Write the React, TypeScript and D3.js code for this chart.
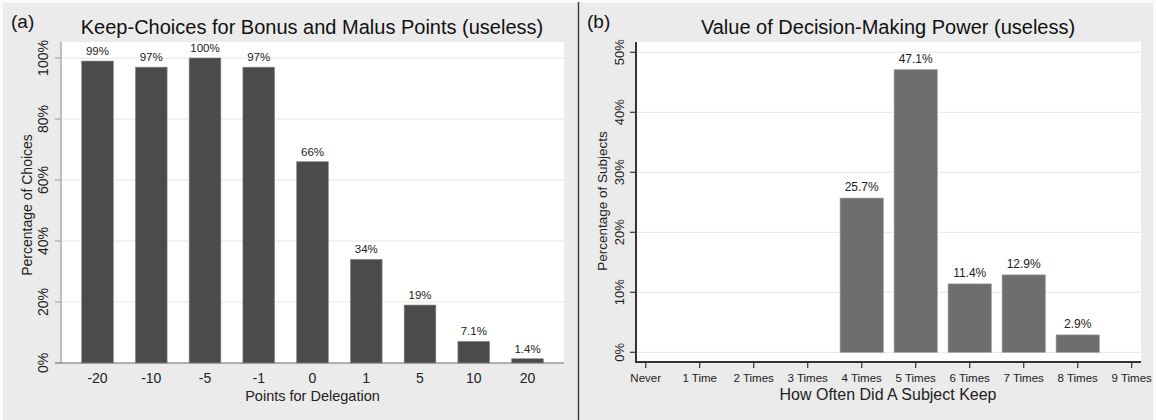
import { useLayoutEffect, useRef } from "react";
import * as d3 from "d3";

const W = 1156;
const H = 420;

// panel (a)
const pointsCats = ["-20", "-10", "-5", "-1", "0", "1", "5", "10", "20"];
const keepShares = [99, 97, 100, 97, 66, 34, 19, 7.1, 1.4];
const keepLabels = ["99%", "97%", "100%", "97%", "66%", "34%", "19%", "7.1%", "1.4%"];
const keepTicks = [0, 20, 40, 60, 80, 100];

// panel (b)
const timesCats = ["Never", "1 Time", "2 Times", "3 Times", "4 Times", "5 Times", "6 Times", "7 Times", "8 Times", "9 Times"];
const subjectShares = [0, 0, 0, 0, 25.7, 47.1, 11.4, 12.9, 2.9, 0];
const subjectLabels = ["", "", "", "", "25.7%", "47.1%", "11.4%", "12.9%", "2.9%", ""];
const subjectTicks = [0, 10, 20, 30, 40, 50];

const FONT = "'Liberation Sans', Arial, sans-serif";

const App = () => {
  const svgRef = useRef<SVGSVGElement>(null);

  useLayoutEffect(() => {
    const svg = d3.select(svgRef.current);
    svg.selectAll("*").remove();
    svg.attr("font-family", FONT);

    // backgrounds
    svg.append("rect").attr("width", W).attr("height", H).attr("fill", "#fafafa");
    svg.append("rect").attr("x", 3).attr("y", 3).attr("width", 574).attr("height", H - 3).attr("fill", "#ebebeb");
    svg.append("rect").attr("x", 580).attr("y", 3).attr("width", 573).attr("height", H - 3).attr("fill", "#ebebeb");
    svg.append("line").attr("x1", 578.5).attr("x2", 578.5).attr("y1", 2).attr("y2", H).attr("stroke", "#3a3a3a").attr("stroke-width", 1.5);

    // ---------- panel (a) ----------
    const a = { left: 61, right: 564, top: 42, bottom: 363 };
    const xa = d3.scaleBand().domain(pointsCats).range([a.left, a.right]).paddingInner(0.41).paddingOuter(0.384);
    const ya = d3.scaleLinear().domain([0, 100]).range([363, 58]);

    const ga = svg.append("g");
    ga.append("rect").attr("x", a.left).attr("y", a.top).attr("width", a.right - a.left).attr("height", a.bottom - a.top).attr("fill", "#fff");
    ga.selectAll(".grid").data(keepTicks.slice(1)).join("line")
      .attr("x1", a.left).attr("x2", a.right)
      .attr("y1", (d) => ya(d)).attr("y2", (d) => ya(d))
      .attr("stroke", "#e6e6e6").attr("stroke-width", 1);

    ga.selectAll(".bar").data(keepShares).join("rect")
      .attr("x", (_, i) => xa(pointsCats[i])!)
      .attr("width", xa.bandwidth())
      .attr("y", (d) => ya(d))
      .attr("height", (d) => ya(0) - ya(d))
      .attr("fill", "#4b4b4b").attr("stroke", "#8a8a8a").attr("stroke-width", 0.6);

    ga.selectAll(".lbl").data(keepLabels).join("text")
      .attr("x", (_, i) => xa(pointsCats[i])! + xa.bandwidth() / 2)
      .attr("y", (_, i) => ya(keepShares[i]) - 6)
      .attr("text-anchor", "middle").attr("font-size", 11.5).attr("fill", "#222")
      .text((d) => d);

    // axes
    ga.append("line").attr("x1", a.left).attr("x2", a.left).attr("y1", a.top).attr("y2", a.bottom).attr("stroke", "#9a9a9a").attr("stroke-width", 1.2);
    ga.append("line").attr("x1", a.left - 6).attr("x2", a.right).attr("y1", a.bottom).attr("y2", a.bottom).attr("stroke", "#6a6a6a").attr("stroke-width", 1.2);
    ga.selectAll(".yt").data(keepTicks).join("line")
      .attr("x1", a.left - 6).attr("x2", a.left)
      .attr("y1", (d) => ya(d)).attr("y2", (d) => ya(d))
      .attr("stroke", "#9a9a9a");
    ga.selectAll(".ytl").data(keepTicks).join("text")
      .attr("transform", (d) => `translate(48,${ya(d)}) rotate(-90)`)
      .attr("text-anchor", "middle").attr("font-size", 14).attr("fill", "#222")
      .text((d) => `${d}%`);
    ga.selectAll(".xtl").data(pointsCats).join("text")
      .attr("x", (d) => xa(d)! + xa.bandwidth() / 2)
      .attr("y", 383)
      .attr("text-anchor", "middle").attr("font-size", 14).attr("fill", "#222")
      .text((d) => d);
    ga.append("text").attr("x", (a.left + a.right) / 2).attr("y", 401)
      .attr("text-anchor", "middle").attr("font-size", 14.5).attr("fill", "#222")
      .text("Points for Delegation");
    ga.append("text").attr("transform", `translate(32,205) rotate(-90)`)
      .attr("text-anchor", "middle").attr("font-size", 14).attr("fill", "#222")
      .text("Percentage of Choices");
    ga.append("text").attr("x", 11).attr("y", 28).attr("font-size", 19).attr("fill", "#111").text("(a)");
    ga.append("text").attr("x", 312).attr("y", 34).attr("text-anchor", "middle").attr("font-size", 20).attr("fill", "#111")
      .text("Keep-Choices for Bonus and Malus Points (useless)");

    // ---------- panel (b) ----------
    const b = { left: 636, right: 1141, top: 42, bottom: 362 };
    const xb = d3.scaleLinear().domain([0, timesCats.length - 1]).range([645.7, 1131.7]);
    const yb = d3.scaleLinear().domain([0, 50]).range([352.3, 52.3]);
    const bw = (xb(1) - xb(0)) * 0.8;

    const gb = svg.append("g");
    gb.append("rect").attr("x", b.left).attr("y", b.top).attr("width", b.right - b.left).attr("height", b.bottom - b.top).attr("fill", "#fff");
    gb.selectAll(".grid").data(subjectTicks).join("line")
      .attr("x1", b.left).attr("x2", b.right)
      .attr("y1", (d) => yb(d)).attr("y2", (d) => yb(d))
      .attr("stroke", "#e6e6e6").attr("stroke-width", 1);

    const shown = subjectShares.map((v, i) => ({ v, i })).filter((d) => d.v > 0);

    gb.selectAll(".bar").data(shown).join("rect")
      .attr("x", (d) => xb(d.i) - bw / 2).attr("width", bw)
      .attr("y", (d) => yb(d.v)).attr("height", (d) => yb(0) - yb(d.v))
      .attr("fill", "#6e6e6e").attr("stroke", "#9a9a9a").attr("stroke-width", 0.6);
    gb.selectAll(".lbl").data(shown).join("text")
      .attr("x", (d) => xb(d.i)).attr("y", (d) => yb(d.v) - 7)
      .attr("text-anchor", "middle").attr("font-size", 12).attr("fill", "#222")
      .text((d) => subjectLabels[d.i]);

    gb.append("line").attr("x1", b.left).attr("x2", b.left).attr("y1", b.top).attr("y2", b.bottom + 1).attr("stroke", "#333").attr("stroke-width", 2);
    gb.append("line").attr("x1", b.left).attr("x2", b.right).attr("y1", b.bottom).attr("y2", b.bottom).attr("stroke", "#333").attr("stroke-width", 2);
    gb.selectAll(".yt").data(subjectTicks).join("line")
      .attr("x1", b.left - 6).attr("x2", b.left)
      .attr("y1", (d) => yb(d)).attr("y2", (d) => yb(d))
      .attr("stroke", "#333").attr("stroke-width", 1.2);
    gb.selectAll(".ytl").data(subjectTicks).join("text")
      .attr("transform", (d) => `translate(624,${yb(d)}) rotate(-90)`)
      .attr("text-anchor", "middle").attr("font-size", 13).attr("fill", "#222")
      .text((d) => `${d}%`);
    gb.selectAll(".xt").data(timesCats).join("line")
      .attr("x1", (_, i) => xb(i)).attr("x2", (_, i) => xb(i))
      .attr("y1", b.bottom).attr("y2", b.bottom + 6)
      .attr("stroke", "#333").attr("stroke-width", 1.2);
    gb.selectAll(".xtl").data(timesCats).join("text")
      .attr("x", (_, i) => xb(i)).attr("y", 382)
      .attr("text-anchor", "middle").attr("font-size", 11.5).attr("fill", "#222")
      .text((d) => d);
    gb.append("text").attr("x", 888).attr("y", 400)
      .attr("text-anchor", "middle").attr("font-size", 16).attr("fill", "#222")
      .text("How Often Did A Subject Keep");
    gb.append("text").attr("transform", `translate(607,201) rotate(-90)`)
      .attr("text-anchor", "middle").attr("font-size", 13.5).attr("fill", "#222")
      .text("Percentage of Subjects");
    gb.append("text").attr("x", 587).attr("y", 28).attr("font-size", 19).attr("fill", "#111").text("(b)");
    gb.append("text").attr("x", 888).attr("y", 34).attr("text-anchor", "middle").attr("font-size", 20).attr("fill", "#111")
      .text("Value of Decision-Making Power (useless)");

    return () => {
      svg.selectAll("*").remove();
    };
  }, []);

  return (
    <svg
      ref={svgRef}
      width={W}
      height={H}
      style={{ position: "absolute", left: 0, top: 0, display: "block" }}
    ></svg>
  );
};

export default App;
